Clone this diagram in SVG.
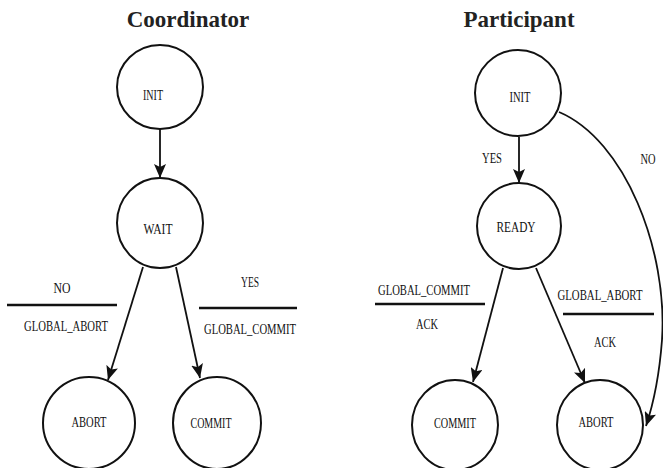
<svg xmlns="http://www.w3.org/2000/svg" width="663" height="468" viewBox="0 0 663 468">
<style>
.st{fill:#fff;stroke:#111;stroke-width:2}
.lb{font-family:"Liberation Serif","Times New Roman",serif;font-size:15px;fill:#111;text-anchor:middle}
.tt{font-family:"Liberation Serif","Times New Roman",serif;font-size:23px;font-weight:bold;fill:#222;text-anchor:middle}
.cn{fill:none;stroke:#111;stroke-width:1.8}
.bar{stroke:#111;stroke-width:2.5}
</style>
<defs>
<marker id="ah" markerUnits="userSpaceOnUse" markerWidth="15" markerHeight="12" refX="14" refY="6" orient="auto">
<path d="M0,0 L14,6 L0,12 L3,6 z" fill="#111"/>
</marker>
</defs>
<rect width="663" height="468" fill="#fff"/>
<text class="tt" x="188" y="27">Coordinator</text>
<text class="tt" x="519" y="27">Participant</text>
<g id="connectors">
<line class="cn" x1="160" y1="129" x2="160" y2="178" marker-end="url(#ah)"/>
<line class="cn" x1="143" y1="267" x2="108" y2="380" marker-end="url(#ah)"/>
<line class="cn" x1="176" y1="267" x2="200" y2="378" marker-end="url(#ah)"/>
<line class="cn" x1="519" y1="137" x2="519" y2="183" marker-end="url(#ah)"/>
<line class="cn" x1="503" y1="268" x2="473" y2="382" marker-end="url(#ah)"/>
<line class="cn" x1="536" y1="268" x2="585" y2="383" marker-end="url(#ah)"/>
<path class="cn" d="M559,112 C625,140 668,250 662,340 C659,380 653,405 646,426" marker-end="url(#ah)"/>
<line class="bar" x1="7" y1="305" x2="117" y2="305"/>
<line class="bar" x1="199" y1="308" x2="297" y2="308"/>
<line class="bar" x1="375" y1="304" x2="485" y2="304"/>
<line class="bar" x1="563" y1="314" x2="654" y2="314"/>
<text class="lb" x="62" y="293" textLength="17" lengthAdjust="spacingAndGlyphs">NO</text>
<text class="lb" x="66" y="331" textLength="84" lengthAdjust="spacingAndGlyphs">GLOBAL_ABORT</text>
<text class="lb" x="250" y="287" textLength="18" lengthAdjust="spacingAndGlyphs">YES</text>
<text class="lb" x="250" y="334" textLength="92" lengthAdjust="spacingAndGlyphs">GLOBAL_COMMIT</text>
<text class="lb" x="492" y="163" textLength="20" lengthAdjust="spacingAndGlyphs">YES</text>
<text class="lb" x="648" y="164" textLength="15" lengthAdjust="spacingAndGlyphs">NO</text>
<text class="lb" x="424" y="295" textLength="92" lengthAdjust="spacingAndGlyphs">GLOBAL_COMMIT</text>
<text class="lb" x="427" y="329" textLength="22" lengthAdjust="spacingAndGlyphs">ACK</text>
<text class="lb" x="600" y="300" textLength="85" lengthAdjust="spacingAndGlyphs">GLOBAL_ABORT</text>
<text class="lb" x="605" y="347" textLength="22" lengthAdjust="spacingAndGlyphs">ACK</text>
</g>
<g id="c-init"><ellipse class="st" cx="160" cy="87" rx="43" ry="42"/><text class="lb" x="153" y="100" textLength="20" lengthAdjust="spacingAndGlyphs">INIT</text></g>
<g id="c-wait"><ellipse class="st" cx="160" cy="223" rx="43" ry="45"/><text class="lb" x="158" y="234" textLength="29" lengthAdjust="spacingAndGlyphs">WAIT</text></g>
<g id="c-abort"><ellipse class="st" cx="89" cy="423" rx="46" ry="46"/><text class="lb" x="89" y="427" textLength="35" lengthAdjust="spacingAndGlyphs">ABORT</text></g>
<g id="c-commit"><ellipse class="st" cx="217" cy="423" rx="44" ry="46"/><text class="lb" x="211" y="428" textLength="41" lengthAdjust="spacingAndGlyphs">COMMIT</text></g>
<g id="p-init"><ellipse class="st" cx="518" cy="93" rx="43" ry="43"/><text class="lb" x="520" y="102" textLength="21" lengthAdjust="spacingAndGlyphs">INIT</text></g>
<g id="p-ready"><ellipse class="st" cx="519" cy="226" rx="42" ry="43"/><text class="lb" x="516" y="232" textLength="39" lengthAdjust="spacingAndGlyphs">READY</text></g>
<g id="p-commit"><ellipse class="st" cx="455" cy="425" rx="43" ry="45"/><text class="lb" x="455" y="428" textLength="42" lengthAdjust="spacingAndGlyphs">COMMIT</text></g>
<g id="p-abort"><ellipse class="st" cx="600" cy="425" rx="43" ry="45"/><text class="lb" x="596" y="427" textLength="35" lengthAdjust="spacingAndGlyphs">ABORT</text></g>
</svg>
